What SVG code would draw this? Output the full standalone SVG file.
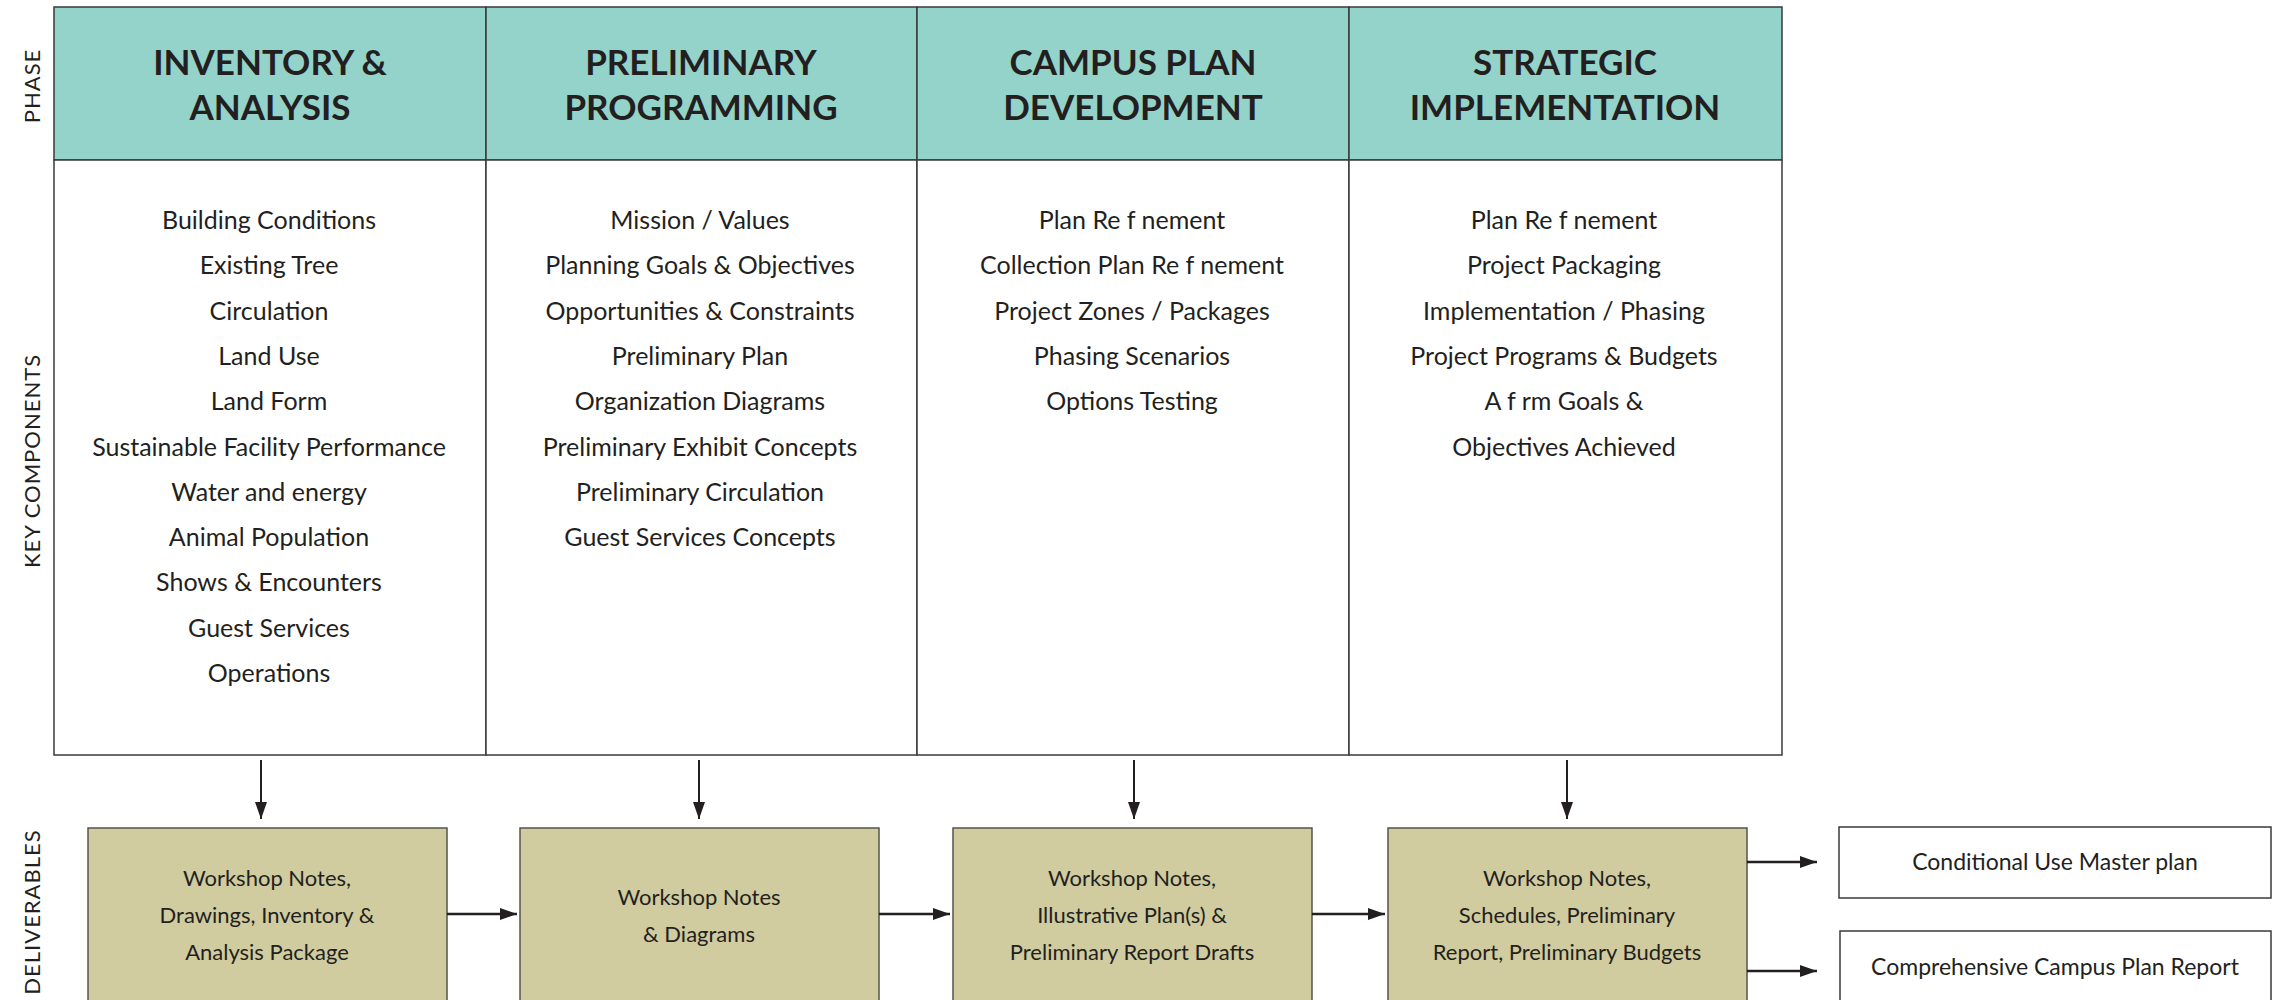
<svg xmlns="http://www.w3.org/2000/svg" width="2286" height="1000" viewBox="0 0 2286 1000">
<defs>
<style>
.hdr{fill:#94d3c9;stroke:#3a3a3a;stroke-width:1.5}
.body{fill:#ffffff;stroke:#3a3a3a;stroke-width:1.5}
.ht{font-family:Lato,"Liberation Sans",sans-serif;font-weight:700;font-size:35px;fill:#231f20;text-anchor:middle}
.bt{font-family:Lato,"Liberation Sans",sans-serif;font-weight:400;font-size:25px;fill:#231f20;text-anchor:middle}
.side{font-family:Lato,"Liberation Sans",sans-serif;font-weight:400;font-size:22px;fill:#231f20;text-anchor:middle;letter-spacing:1px}
.dbox{fill:#d0cc9f;stroke:#55534a;stroke-width:1.5}
.dt{font-family:Lato,"Liberation Sans",sans-serif;font-weight:400;font-size:22px;fill:#231f20;text-anchor:middle}
.obox{fill:#ffffff;stroke:#3a3a3a;stroke-width:1.5}
.ot{font-family:Lato,"Liberation Sans",sans-serif;font-weight:400;font-size:23px;fill:#231f20;text-anchor:middle}
.cv{stroke:#231f20;stroke-width:2;fill:none}
.ch{stroke:#231f20;stroke-width:2.5;fill:none}
</style>
<marker id="ah" markerUnits="userSpaceOnUse" markerWidth="18" markerHeight="14" refX="17" refY="6" orient="auto">
<path d="M0,0 L17,6 L0,12 z" fill="#231f20"/>
</marker>
</defs>
<rect width="2286" height="1000" fill="#ffffff"/>

<g id="labels">
<text class="side" transform="translate(40,86) rotate(-90)">PHASE</text>
<text class="side" transform="translate(40,461) rotate(-90)">KEY COMPONENTS</text>
<text class="side" transform="translate(40,912) rotate(-90)">DELIVERABLES</text>
</g>

<g id="phase1">
<rect class="hdr" x="54" y="7" width="432" height="153"/>
<rect class="body" x="54" y="160" width="432" height="595"/>
<text class="ht" x="270" y="75">INVENTORY &amp;</text>
<text class="ht" x="270" y="120">ANALYSIS</text>
<text class="bt" x="269" y="229">Building Conditions</text>
<text class="bt" x="269" y="274">Existing Tree</text>
<text class="bt" x="269" y="320">Circulation</text>
<text class="bt" x="269" y="365">Land Use</text>
<text class="bt" x="269" y="410">Land Form</text>
<text class="bt" x="269" y="456">Sustainable Facility Performance</text>
<text class="bt" x="269" y="501">Water and energy</text>
<text class="bt" x="269" y="546">Animal Population</text>
<text class="bt" x="269" y="591">Shows &amp; Encounters</text>
<text class="bt" x="269" y="637">Guest Services</text>
<text class="bt" x="269" y="682">Operations</text>
</g>

<g id="phase2">
<rect class="hdr" x="486" y="7" width="431" height="153"/>
<rect class="body" x="486" y="160" width="431" height="595"/>
<text class="ht" x="701" y="75">PRELIMINARY</text>
<text class="ht" x="701" y="120">PROGRAMMING</text>
<text class="bt" x="700" y="229">Mission / Values</text>
<text class="bt" x="700" y="274">Planning Goals &amp; Objectives</text>
<text class="bt" x="700" y="320">Opportunities &amp; Constraints</text>
<text class="bt" x="700" y="365">Preliminary Plan</text>
<text class="bt" x="700" y="410">Organization Diagrams</text>
<text class="bt" x="700" y="456">Preliminary Exhibit Concepts</text>
<text class="bt" x="700" y="501">Preliminary Circulation</text>
<text class="bt" x="700" y="546">Guest Services Concepts</text>
</g>

<g id="phase3">
<rect class="hdr" x="917" y="7" width="432" height="153"/>
<rect class="body" x="917" y="160" width="432" height="595"/>
<text class="ht" x="1133" y="75">CAMPUS PLAN</text>
<text class="ht" x="1133" y="120">DEVELOPMENT</text>
<text class="bt" x="1132" y="229">Plan Re f nement</text>
<text class="bt" x="1132" y="274">Collection Plan Re f nement</text>
<text class="bt" x="1132" y="320">Project Zones / Packages</text>
<text class="bt" x="1132" y="365">Phasing Scenarios</text>
<text class="bt" x="1132" y="410">Options Testing</text>
</g>

<g id="phase4">
<rect class="hdr" x="1349" y="7" width="433" height="153"/>
<rect class="body" x="1349" y="160" width="433" height="595"/>
<text class="ht" x="1565" y="75">STRATEGIC</text>
<text class="ht" x="1565" y="120">IMPLEMENTATION</text>
<text class="bt" x="1564" y="229">Plan Re f nement</text>
<text class="bt" x="1564" y="274">Project Packaging</text>
<text class="bt" x="1564" y="320">Implementation / Phasing</text>
<text class="bt" x="1564" y="365">Project Programs &amp; Budgets</text>
<text class="bt" x="1564" y="410">A f rm Goals &amp;</text>
<text class="bt" x="1564" y="456">Objectives Achieved</text>
</g>

<g id="deliv1">
<rect class="dbox" x="88" y="828" width="359" height="180"/>
<text class="dt" x="267" y="886">Workshop Notes,</text>
<text class="dt" x="267" y="923">Drawings, Inventory &amp;</text>
<text class="dt" x="267" y="960">Analysis Package</text>
</g>
<g id="deliv2">
<rect class="dbox" x="520" y="828" width="359" height="180"/>
<text class="dt" x="699" y="905">Workshop Notes</text>
<text class="dt" x="699" y="942">&amp; Diagrams</text>
</g>
<g id="deliv3">
<rect class="dbox" x="953" y="828" width="359" height="180"/>
<text class="dt" x="1132" y="886">Workshop Notes,</text>
<text class="dt" x="1132" y="923">Illustrative Plan(s) &amp;</text>
<text class="dt" x="1132" y="960">Preliminary Report Drafts</text>
</g>
<g id="deliv4">
<rect class="dbox" x="1388" y="828" width="359" height="180"/>
<text class="dt" x="1567" y="886">Workshop Notes,</text>
<text class="dt" x="1567" y="923">Schedules, Preliminary</text>
<text class="dt" x="1567" y="960">Report, Preliminary Budgets</text>
</g>

<g id="out1">
<rect class="obox" x="1839" y="827" width="432" height="71"/>
<text class="ot" x="2055" y="870">Conditional Use Master plan</text>
</g>
<g id="out2">
<rect class="obox" x="1840" y="931" width="431" height="71"/>
<text class="ot" x="2055" y="975">Comprehensive Campus Plan Report</text>
</g>

<g id="connectors">
<line class="cv" x1="261" y1="760" x2="261" y2="819" marker-end="url(#ah)"/>
<line class="cv" x1="699" y1="760" x2="699" y2="819" marker-end="url(#ah)"/>
<line class="cv" x1="1134" y1="760" x2="1134" y2="819" marker-end="url(#ah)"/>
<line class="cv" x1="1567" y1="760" x2="1567" y2="819" marker-end="url(#ah)"/>
<line class="ch" x1="447" y1="914" x2="517" y2="914" marker-end="url(#ah)"/>
<line class="ch" x1="879" y1="914" x2="950" y2="914" marker-end="url(#ah)"/>
<line class="ch" x1="1312" y1="914" x2="1385" y2="914" marker-end="url(#ah)"/>
<line class="ch" x1="1747" y1="862" x2="1817" y2="862" marker-end="url(#ah)"/>
<line class="ch" x1="1747" y1="971" x2="1817" y2="971" marker-end="url(#ah)"/>
</g>
</svg>
